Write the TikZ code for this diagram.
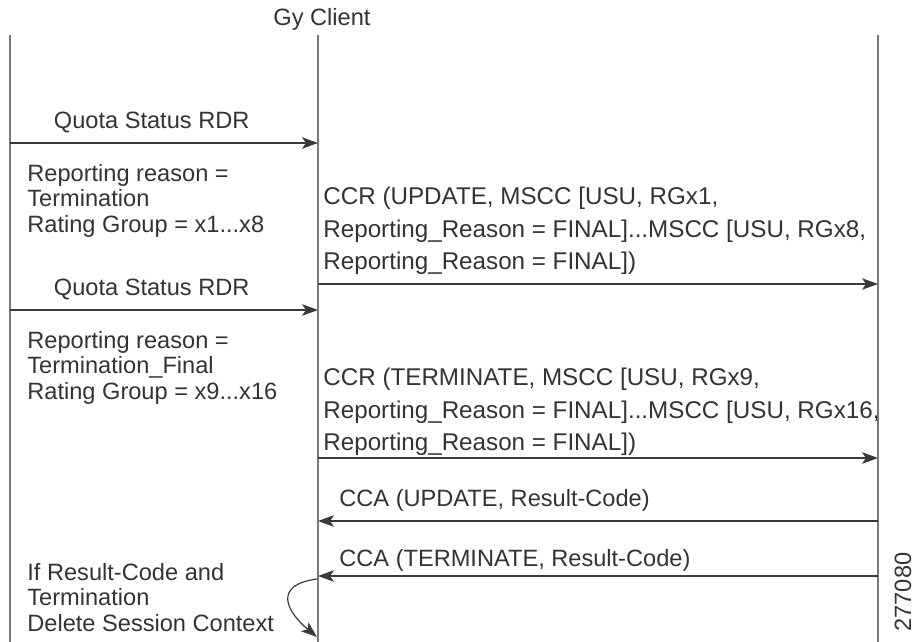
\documentclass[tikz,border=0pt]{standalone}
\usepackage{fontspec}
\setmainfont{Liberation Sans}
\usetikzlibrary{arrows.meta,positioning}
\definecolor{inkgray}{HTML}{333333}
\definecolor{msggray}{HTML}{3A3A3A}
\definecolor{lifegray}{HTML}{7A7A7A}

\begin{document}
\begin{tikzpicture}[x=0.5pt,y=-0.5pt,
	lbl/.style={inner sep=0pt, text=inkgray, font=\fontsize{11.8}{12.7}\selectfont},
	note/.style={lbl, align=left},
	ccrtext/.style={lbl, align=left, font=\fontsize{12.1}{16.2}\selectfont},
	life/.style={draw=lifegray, line width=0.6pt},
	msg/.style={draw=msggray, line width=0.6pt, -{Stealth[length=8pt,width=5.8pt,inset=2pt]}}]
	
	\useasboundingbox (0,0) rectangle (915,642);
	
	\node[lbl] (gy) at (322,19) {Gy Client};
	
	\coordinate (lt) at (10,35);  \coordinate (lb) at (10,642);
	\coordinate (gt) at (318,35); \coordinate (gb) at (318,642);
	\coordinate (ot) at (878,35); \coordinate (ob) at (878,642);
	\draw[life] (lt) -- (lb) (gt) -- (gb) (ot) -- (ob);
	
	% first round
	\coordinate (rdr1s) at (10,143);  \coordinate (rdr1e) at (318,143);
	\draw[msg] (rdr1s) -- node[lbl, above=4.7pt, pos=.46] {Quota Status RDR} (rdr1e);
	\node[note, below right=10.5pt and 8.5pt of rdr1s] (note1) {Reporting reason =\\Termination\\Rating Group = x1...x8};
	
	\coordinate (ccr1s) at (318,284); \coordinate (ccr1e) at (878,284);
	\draw[msg] (ccr1s) -- (ccr1e);
	\node[ccrtext, above right=4.5pt and 2.5pt of ccr1s] (ccr1l) {CCR (UPDATE, MSCC [USU, RGx1,\\Reporting\_Reason = FINAL]...MSCC [USU, RGx8,\\Reporting\_Reason = FINAL])};
	
	% second round
	\coordinate (rdr2s) at (10,310);  \coordinate (rdr2e) at (318,310);
	\draw[msg] (rdr2s) -- node[lbl, above=4.7pt, pos=.46] {Quota Status RDR} (rdr2e);
	\node[note, below right=10.5pt and 8.5pt of rdr2s] (note2) {Reporting reason =\\Termination\_Final\\Rating Group = x9...x16};
	
	\coordinate (ccr2s) at (318,458); \coordinate (ccr2e) at (878,458);
	\draw[msg] (ccr2s) -- (ccr2e);
	\node[ccrtext, above right=1pt and 2.5pt of ccr2s] (ccr2l) {CCR (TERMINATE, MSCC [USU, RGx9,\\Reporting\_Reason = FINAL]...MSCC [USU, RGx16,\\Reporting\_Reason = FINAL])};
	
	% answers
	\coordinate (cca1s) at (878,521); \coordinate (cca1e) at (318,521);
	\draw[msg] (cca1s) -- (cca1e);
	\node[lbl, above right=4.5pt and 10.5pt of cca1e] (cca1l) {CCA (UPDATE, Result-Code)};
	
	\coordinate (cca2s) at (878,576); \coordinate (cca2e) at (318,576);
	\draw[msg] (cca2s) -- (cca2e);
	\node[lbl, above right=2pt and 10.5pt of cca2e] (cca2l) {CCA (TERMINATE, Result-Code)};
	
	\node[note, anchor=north west] (note3) at (27,563) {If Result-Code and\\Termination\\Delete Session Context};
	\coordinate (dels) at (317,579); \coordinate (dele) at (317,637);
	\draw[msg] (dels) .. controls (272,585) and (287,612) .. (dele);
	
	\node[lbl, rotate=90] (figid) at (903,592) {277080};
\end{tikzpicture}
\end{document}
